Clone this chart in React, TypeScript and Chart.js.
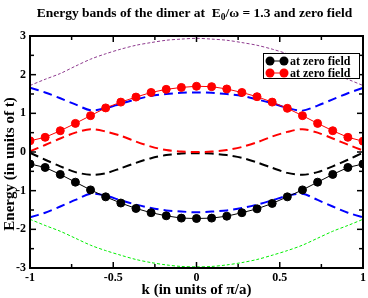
import React, { useEffect, useRef } from "react";
import { Chart, registerables } from "chart.js";

Chart.register(...registerables);

const kValues = [
  -1, -0.9091, -0.8182, -0.7273, -0.6364, -0.5455, -0.4545, -0.3636, -0.2727, -0.1818, -0.0909,
  0, 0.0909, 0.1818, 0.2727, 0.3636, 0.4545, 0.5455, 0.6364, 0.7273, 0.8182, 0.9091, 1,
];

const redDots = [
  0.29, 0.38, 0.55, 0.74, 0.94, 1.14, 1.29, 1.42, 1.54, 1.62, 1.67, 1.7,
  1.69, 1.63, 1.54, 1.43, 1.29, 1.13, 0.94, 0.74, 0.55, 0.38, 0.28,
];
const blackDots = [
  -0.31, -0.4, -0.58, -0.78, -0.98, -1.16, -1.32, -1.46, -1.57, -1.65, -1.71, -1.72,
  -1.71, -1.66, -1.57, -1.47, -1.33, -1.16, -0.98, -0.78, -0.58, -0.4, -0.31,
];
const purpleBand = [
  1.72, 1.88, 2.03, 2.22, 2.4, 2.54, 2.66, 2.76, 2.83, 2.89, 2.92, 2.94,
  2.92, 2.89, 2.83, 2.76, 2.66, 2.54, 2.4, 2.22, 2.03, 1.88, 1.72,
];
const greenBand = [
  -1.74, -1.9, -2.05, -2.23, -2.41, -2.55, -2.67, -2.78, -2.86, -2.92, -2.96, -2.97,
  -2.96, -2.92, -2.86, -2.78, -2.67, -2.55, -2.41, -2.23, -2.05, -1.9, -1.74,
];
const blueUpper = [
  1.66, 1.54, 1.39, 1.23, 1.08, 1.13, 1.25, 1.36, 1.45, 1.5, 1.53, 1.54,
  1.53, 1.5, 1.45, 1.36, 1.26, 1.14, 1.07, 1.2, 1.36, 1.52, 1.66,
];
const blueLower = [
  -1.69, -1.57, -1.41, -1.24, -1.08, -1.13, -1.25, -1.36, -1.45, -1.51, -1.54, -1.56,
  -1.54, -1.51, -1.45, -1.36, -1.25, -1.13, -1.08, -1.24, -1.41, -1.57, -1.69,
];
const redDashed = [
  0.02, 0.18, 0.35, 0.5, 0.59, 0.53, 0.42, 0.27, 0.14, 0.05, 0.01, 0.0,
  0.01, 0.05, 0.13, 0.25, 0.4, 0.52, 0.59, 0.5, 0.35, 0.19, 0.04,
];
const blackDashed = [
  -0.02, -0.2, -0.37, -0.52, -0.59, -0.55, -0.42, -0.28, -0.16, -0.08, -0.04, -0.03,
  -0.04, -0.08, -0.15, -0.27, -0.41, -0.54, -0.59, -0.52, -0.37, -0.2, -0.02,
];

const xMajorTicks = [-1, -0.5, 0, 0.5, 1];
const xMinorTicks = [-0.75, -0.25, 0.25, 0.75];
const yMajorTicks = [-3, -2, -1, 0, 1, 2, 3];
const yMinorTicks = [-2.5, -1.5, -0.5, 0.5, 1.5, 2.5];

const legendLabels = ["at zero field", "at zero field"];
const legendColors = ["#000000", "#ff0000"];

const SERIF = "'Liberation Serif', 'Times New Roman', serif";

const toPts = (ys: number[]) => ys.map((y, i) => ({ x: kValues[i], y }));

const decorPlugin = {
  id: "decor",
  afterDraw(chart: any) {
    const { ctx, chartArea: a, scales } = chart;
    const xs = scales.x;
    const ys = scales.y;
    ctx.save();
    ctx.strokeStyle = "#000";
    ctx.lineWidth = 1.5;
    const seg = (x1: number, y1: number, x2: number, y2: number) => {
      ctx.beginPath();
      ctx.moveTo(x1, y1);
      ctx.lineTo(x2, y2);
      ctx.stroke();
    };
    xMajorTicks.forEach((v) => {
      const p = xs.getPixelForValue(v);
      seg(p, a.bottom, p, a.bottom - 6);
      seg(p, a.top, p, a.top + 6);
    });
    xMinorTicks.forEach((v) => {
      const p = xs.getPixelForValue(v);
      seg(p, a.bottom, p, a.bottom - 4);
      seg(p, a.top, p, a.top + 4);
    });
    yMajorTicks.forEach((v) => {
      const p = ys.getPixelForValue(v);
      seg(a.left, p, a.left + 6, p);
      seg(a.right, p, a.right - 6, p);
    });
    yMinorTicks.forEach((v) => {
      const p = ys.getPixelForValue(v);
      seg(a.left, p, a.left + 4, p);
      seg(a.right, p, a.right - 4, p);
    });
    ctx.lineWidth = 2;
    ctx.strokeRect(a.left, a.top, a.right - a.left, a.bottom - a.top);

    // Title with subscript
    ctx.fillStyle = "#000";
    ctx.textBaseline = "alphabetic";
    const big = `bold 13.5px ${SERIF}`;
    const small = `bold 9.5px ${SERIF}`;
    const p1 = "Energy bands of the dimer at  E";
    const p2 = "0";
    const p3 = "/\u03c9 = 1.3 and zero field";
    ctx.font = big;
    const w1 = ctx.measureText(p1).width;
    const w3 = ctx.measureText(p3).width;
    ctx.font = small;
    const w2 = ctx.measureText(p2).width;
    const total = w1 + w2 + w3;
    let tx = (a.left + a.right) / 2 - 2 - total / 2;
    const ty = 17;
    ctx.textAlign = "left";
    ctx.font = big;
    ctx.fillText(p1, tx, ty);
    tx += w1;
    ctx.font = small;
    ctx.fillText(p2, tx, ty + 3);
    tx += w2;
    ctx.font = big;
    ctx.fillText(p3, tx, ty);

    // axis titles
    const axisFont = `bold 15px ${SERIF}`;
    ctx.font = axisFont;
    ctx.textAlign = "center";
    ctx.textBaseline = "middle";
    ctx.fillText("k (in units of \u03c0/a)", (a.left + a.right) / 2, 290);
    ctx.save();
    ctx.translate(10, 164);
    ctx.rotate(-Math.PI / 2);
    ctx.fillText("Energy (in units of t)", 0, 0);
    ctx.restore();

    // legend
    const bx = 263, by = 53, bw = 96, bh = 25;
    ctx.fillStyle = "#fff";
    ctx.fillRect(bx, by, bw, bh);
    ctx.strokeStyle = "#000";
    ctx.lineWidth = 1;
    ctx.strokeRect(bx + 0.5, by + 0.5, bw, bh);
    legendLabels.forEach((lab, i) => {
      const ry = 61 + i * 12;
      const c = legendColors[i];
      ctx.strokeStyle = c;
      ctx.fillStyle = c;
      ctx.lineWidth = 1;
      seg(270, ry, 284, ry);
      [270, 284].forEach((cx) => {
        ctx.beginPath();
        ctx.arc(cx, ry, 4.5, 0, Math.PI * 2);
        ctx.fill();
      });
      ctx.fillStyle = "#000";
      ctx.font = `bold 12px ${SERIF}`;
      ctx.textAlign = "left";
      ctx.textBaseline = "middle";
      ctx.fillText(lab, 290, ry + 0.5);
    });
    ctx.restore();
  },
};

export default function App() {
  const ref = useRef<HTMLCanvasElement | null>(null);
  useEffect(() => {
    document.body.style.margin = "0";
    const canvas = ref.current;
    if (!canvas) return;
    const tickFont = { family: SERIF, weight: "bold" as const, size: 12 };
    const chart = new Chart(canvas, {
      type: "line",
      data: {
        datasets: [
          {
            data: toPts(redDots),
            borderColor: "#ff0000",
            backgroundColor: "#ff0000",
            borderWidth: 1,
            pointRadius: 4,
            pointBorderWidth: 1,
          },
          {
            data: toPts(blackDots),
            borderColor: "#000000",
            backgroundColor: "#000000",
            borderWidth: 1,
            pointRadius: 4,
            pointBorderWidth: 1,
          },
          {
            data: toPts(blueUpper),
            borderColor: "#0000ff",
            borderWidth: 2,
            borderDash: [9, 5],
            pointRadius: 0,
            tension: 0.3,
          },
          {
            data: toPts(blueLower),
            borderColor: "#0000ff",
            borderWidth: 2,
            borderDash: [9, 5],
            pointRadius: 0,
            tension: 0.3,
          },
          {
            data: toPts(redDashed),
            borderColor: "#ff0000",
            borderWidth: 2,
            borderDash: [9, 5],
            pointRadius: 0,
            tension: 0.3,
          },
          {
            data: toPts(blackDashed),
            borderColor: "#000000",
            borderWidth: 2,
            borderDash: [9, 5],
            pointRadius: 0,
            tension: 0.3,
          },
          {
            data: toPts(purpleBand),
            borderColor: "#8e3a8e",
            borderWidth: 1,
            borderDash: [3, 2],
            pointRadius: 0,
            tension: 0.3,
          },
          {
            data: toPts(greenBand),
            borderColor: "#00ee00",
            borderWidth: 1,
            borderDash: [3, 2],
            pointRadius: 0,
            tension: 0.3,
          },
        ],
      },
      options: {
        animation: false,
        responsive: false,
        maintainAspectRatio: false,
        layout: { padding: { top: 36, right: 5, left: 0, bottom: 0 } },
        plugins: { legend: { display: false }, title: { display: false }, tooltip: { enabled: false } },
        scales: {
          x: {
            type: "linear",
            min: -1,
            max: 1,
            grid: { display: false, drawTicks: false },
            border: { display: false },
            ticks: {
              stepSize: 0.5,
              padding: 3,
              color: "#000",
              font: tickFont,
              maxRotation: 0,
              callback: (v: any) => String(Number(v)),
            },
            afterFit: (s: any) => {
              s.height = 30;
              s.paddingLeft = 0;
              s.paddingRight = 0;
              s.paddingTop = 0;
              s.paddingBottom = 0;
            },
          },
          y: {
            type: "linear",
            min: -3,
            max: 3,
            grid: { display: false, drawTicks: false },
            border: { display: false },
            ticks: {
              stepSize: 1,
              padding: 4,
              color: "#000",
              font: tickFont,
              callback: (v: any) => String(Number(v)),
            },
            afterFit: (s: any) => {
              s.width = 30;
              s.paddingLeft = 0;
              s.paddingRight = 0;
              s.paddingTop = 0;
              s.paddingBottom = 0;
            },
          },
        },
      },
      plugins: [decorPlugin],
    });
    return () => chart.destroy();
  }, []);
  return <canvas ref={ref} width={368} height={298} style={{ display: "block" }} />;
}
